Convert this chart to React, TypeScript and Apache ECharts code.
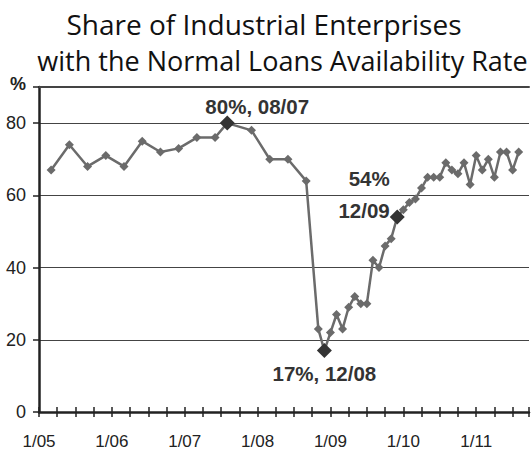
import React, { useEffect, useRef } from 'react';
import * as echarts from 'echarts';

const titleLines = ['Share of Industrial Enterprises', 'with the Normal Loans Availability Rate'];
const unitLabel = '%';

const dates = [
  '2005-03', '2005-06', '2005-09', '2005-12',
  '2006-03', '2006-06', '2006-09', '2006-12',
  '2007-03', '2007-06', '2007-08', '2007-12',
  '2008-03', '2008-06', '2008-09', '2008-11', '2008-12',
  '2009-01', '2009-02', '2009-03', '2009-04', '2009-05', '2009-06',
  '2009-07', '2009-08', '2009-09', '2009-10', '2009-11', '2009-12',
  '2010-01', '2010-02', '2010-03', '2010-04', '2010-05', '2010-06',
  '2010-07', '2010-08', '2010-09', '2010-10', '2010-11', '2010-12',
  '2011-01', '2011-02', '2011-03', '2011-04', '2011-05', '2011-06',
  '2011-07', '2011-08',
];

const values = [
  67, 74, 68, 71,
  68, 75, 72, 73,
  76, 76, 80, 78,
  70, 70, 64, 23, 17,
  22, 27, 23, 29, 32, 30,
  30, 42, 40, 46, 48, 54,
  56, 58, 59, 62, 65, 65,
  65, 69, 67, 66, 69, 63,
  71, 67, 70, 65, 72, 72,
  67, 72,
];

const highlightDates = ['2007-08', '2008-12', '2009-12'];
const highlightLabels = ['80%, 08/07', '17%, 12/08', '54%\n12/09'];

const xTickLabels = ['1/05', '1/06', '1/07', '1/08', '1/09', '1/10', '1/11'];
const yTickLabels = ['0', '20', '40', '60', '80'];

const toMonthIndex = (d: string) => {
  const [y, m] = d.split('-').map(Number);
  return (y - 2005) * 12 + (m - 1);
};

const X_MAX = 80.7;

export default function App() {
  const ref = useRef<HTMLDivElement>(null);
  useEffect(() => {
    if (!ref.current) return;
    const chart = echarts.init(ref.current, null, { renderer: 'svg' });

    const labelStyles: any[] = [
      { position: 'top', distance: 0, offset: [30, 1] },
      { position: 'bottom', distance: 5, offset: [0, 0] },
      { position: 'left', distance: 0, offset: [0, -23], align: 'right', lineHeight: 32 },
    ];

    const seriesData = dates.map((d, i) => {
      const hi = highlightDates.indexOf(d);
      const point: any = { value: [toMonthIndex(d), values[i]] };
      if (hi >= 0) {
        point.symbolSize = 15;
        point.itemStyle = { color: '#333333' };
        point.label = {
          show: true,
          formatter: highlightLabels[hi],
          fontFamily: 'Liberation Sans',
          fontWeight: 'bold',
          fontSize: 20.5,
          color: '#333333',
          ...labelStyles[hi],
        };
        point.z = 10;
      }
      return point;
    });

    const xCommon = {
      type: 'value',
      min: 0,
      max: X_MAX,
      interval: 3,
      splitLine: { show: false },
    };

    chart.setOption({
      animation: false,
      grid: { left: 39, right: 0, top: 87, bottom: 37, containLabel: false },
      graphic: [
        {
          type: 'text', x: 264, y: 38,
          style: {
            text: titleLines[0], fill: '#111', font: '400 28px "Open Sans"',
            textAlign: 'center', textVerticalAlign: 'bottom',
          },
        },
        {
          type: 'text', x: 282.5, y: 74,
          style: {
            text: titleLines[1], fill: '#111', font: '400 27px "Open Sans"',
            textAlign: 'center', textVerticalAlign: 'bottom',
          },
        },
        {
          type: 'text', x: 18, y: 84,
          style: {
            text: unitLabel, fill: '#222', font: 'bold 18px "Liberation Sans"',
            textAlign: 'center', textVerticalAlign: 'middle',
          },
        },
      ],
      xAxis: [
        {
          ...xCommon,
          position: 'bottom',
          axisLine: { show: true, lineStyle: { color: '#222', width: 2.5 } },
          axisTick: { show: true, inside: false, length: 5, lineStyle: { color: '#222', width: 1.5 } },
          axisLabel: {
            show: true,
            margin: 21,
            fontFamily: 'Liberation Sans',
            fontSize: 17,
            color: '#222',
            formatter: (v: number) => {
              const r = Math.round(v);
              return Math.abs(v - r) < 1e-6 && r % 12 === 0 ? (xTickLabels[r / 12] ?? '') : '';
            },
          },
        },
        {
          ...xCommon,
          position: 'bottom',
          axisLine: { show: false },
          axisTick: { show: true, inside: true, length: 5, lineStyle: { color: '#222', width: 1.5 } },
          axisLabel: { show: false },
        },
        {
          ...xCommon,
          position: 'top',
          axisLine: { show: true, lineStyle: { color: '#444', width: 2 } },
          axisTick: { show: false },
          axisLabel: { show: false },
        },
      ],
      yAxis: {
        type: 'value',
        min: 0,
        max: 90,
        interval: 20,
        axisLine: { show: true, lineStyle: { color: '#222', width: 2.5 } },
        axisTick: { show: true, inside: false, length: 6, lineStyle: { color: '#222', width: 1.5 } },
        axisLabel: {
          margin: 13,
          fontFamily: 'Liberation Sans',
          fontSize: 18,
          color: '#222',
          formatter: (v: number) => {
            const idx = v / 20;
            return Number.isInteger(idx) && idx < yTickLabels.length ? yTickLabels[idx] : '';
          },
        },
        splitLine: { show: true, lineStyle: { color: '#444', width: 1 } },
      },
      series: [
        {
          type: 'line',
          xAxisIndex: 0,
          data: seriesData,
          symbol: 'diamond',
          symbolSize: 9,
          showSymbol: true,
          lineStyle: { color: '#6b6b6b', width: 2.5 },
          itemStyle: { color: '#6b6b6b' },
          z: 5,
        },
      ],
    });

    return () => chart.dispose();
  }, []);

  return <div ref={ref} style={{ width: 532, height: 450, position: 'absolute', left: 0, top: 0 }} />;
}
